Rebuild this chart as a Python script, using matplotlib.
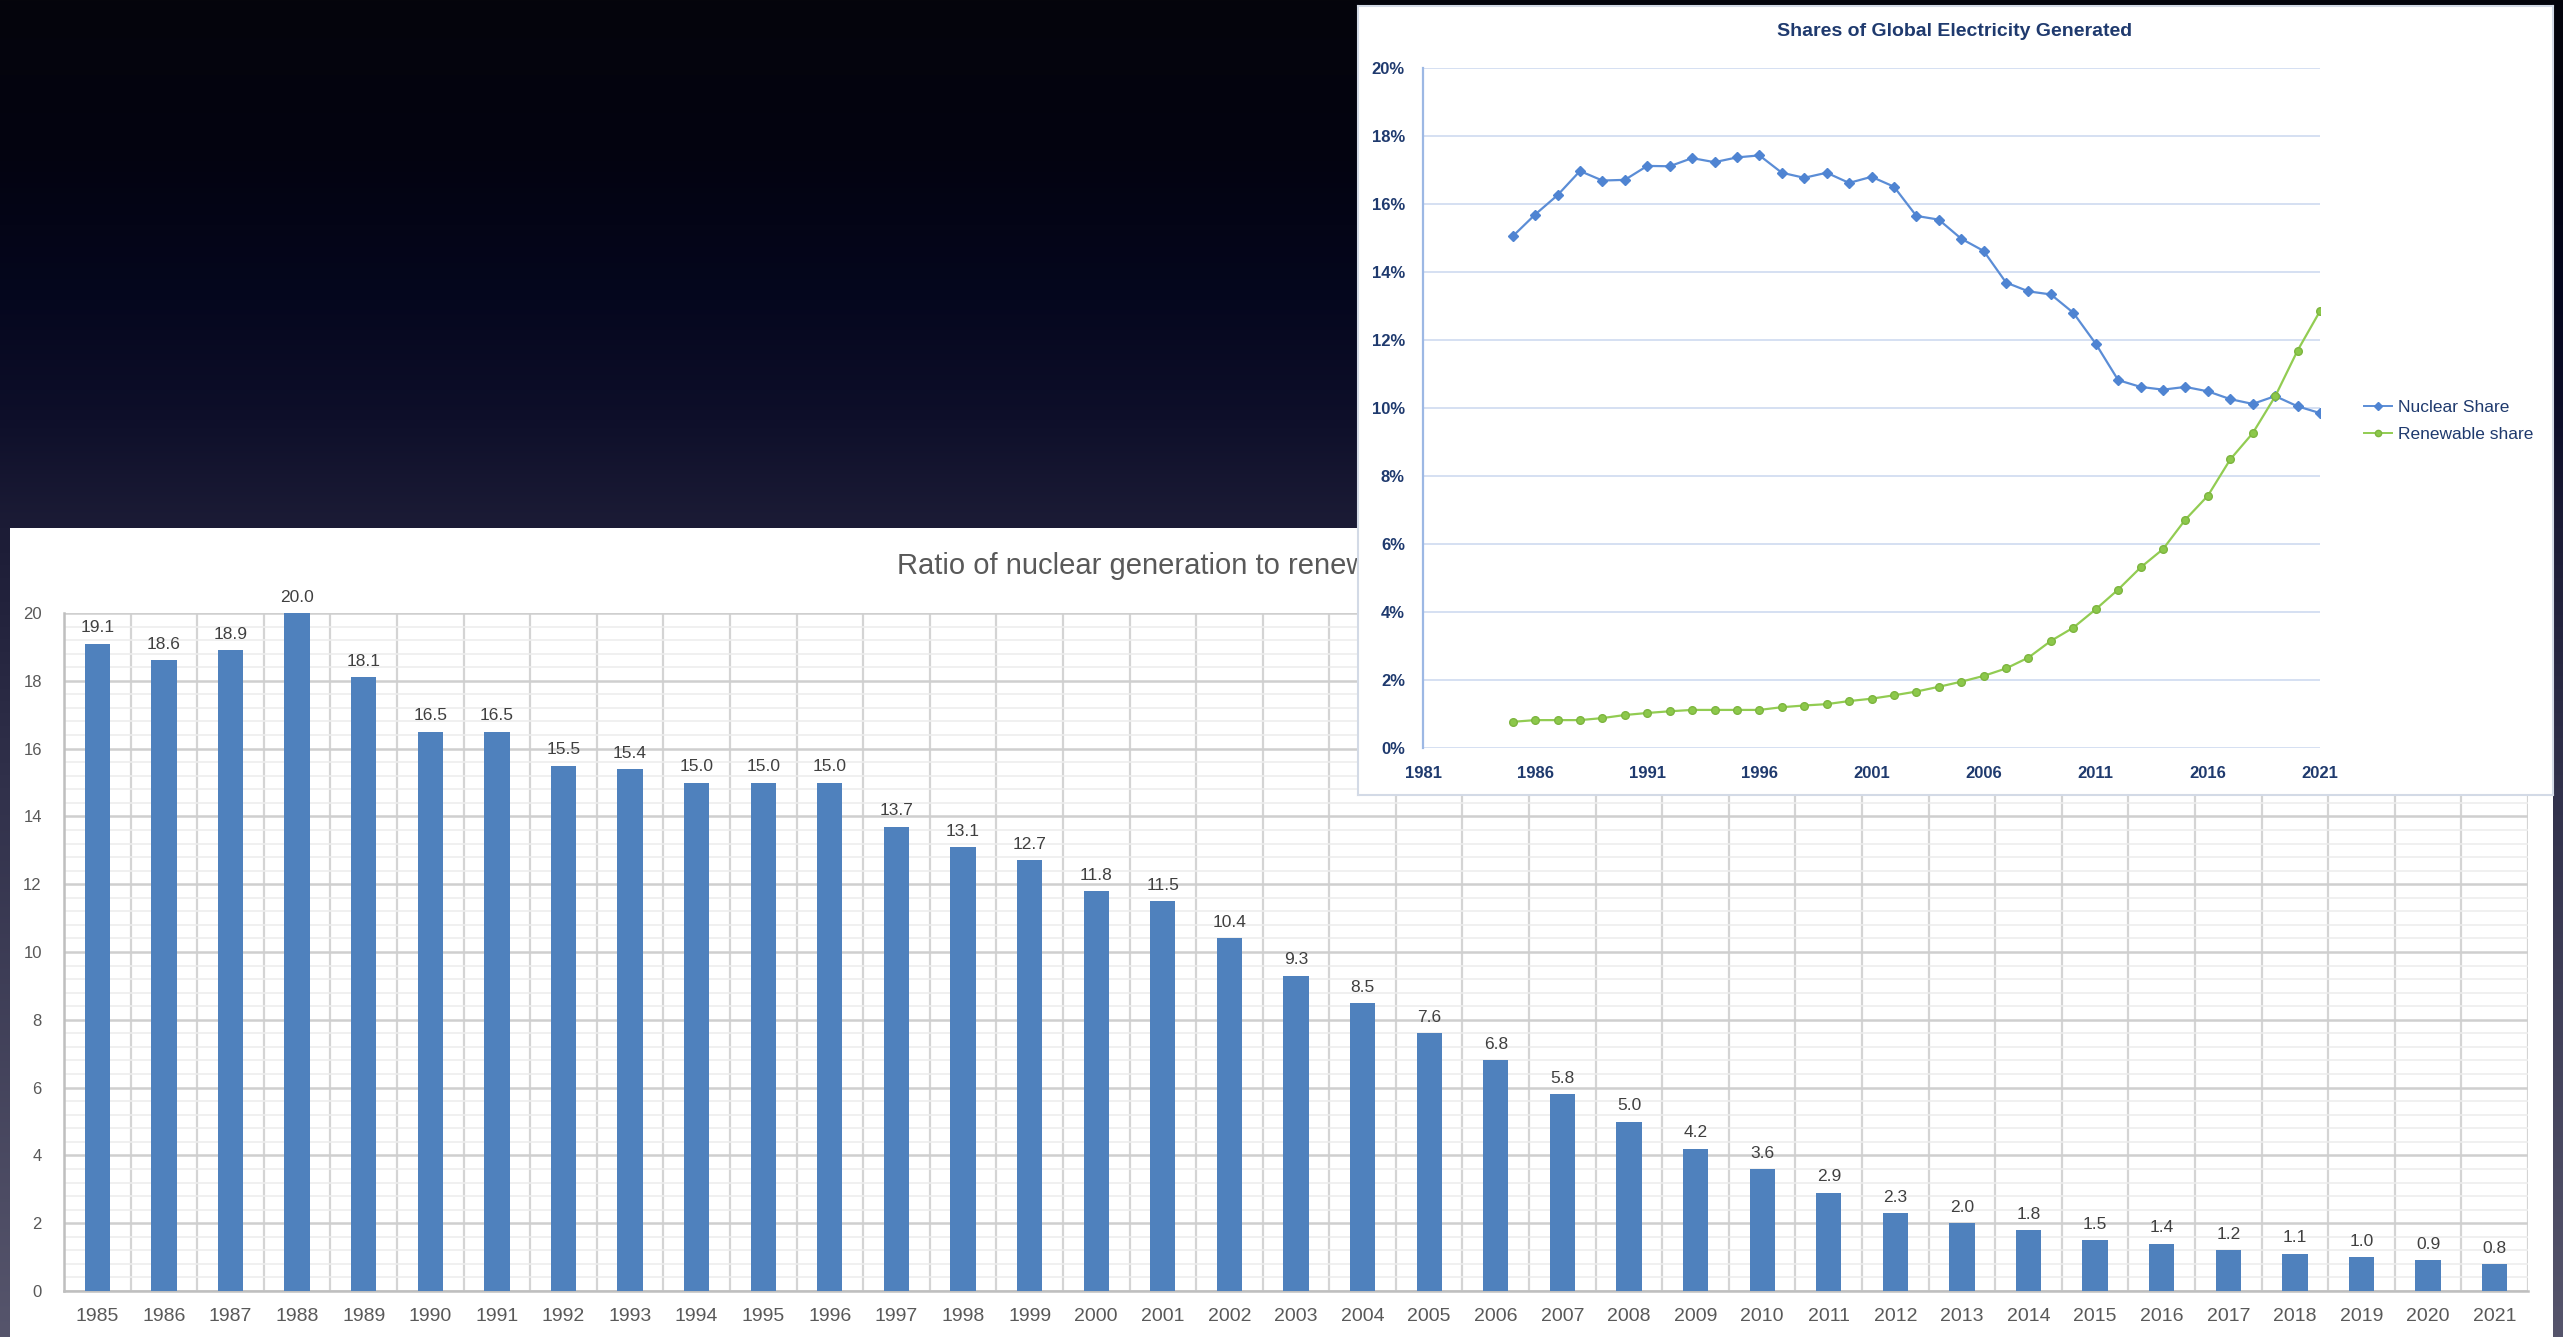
import numpy as np
import matplotlib
matplotlib.use("Agg")
import matplotlib.pyplot as plt
from matplotlib.lines import Line2D

# ---- data -------------------------------------------------------------
years = list(range(1985, 2022))

ratio_values = [19.1, 18.6, 18.9, 20.0, 18.1, 16.5, 16.5, 15.5, 15.4, 15.0,
                15.0, 15.0, 13.7, 13.1, 12.7, 11.8, 11.5, 10.4, 9.3, 8.5,
                7.6, 6.8, 5.8, 5.0, 4.2, 3.6, 2.9, 2.3, 2.0, 1.8,
                1.5, 1.4, 1.2, 1.1, 1.0, 0.9, 0.8]

nuclear_share = [15.05, 15.69, 16.26, 16.97, 16.69, 16.71, 17.12, 17.11, 17.35, 17.23,
                 17.37, 17.43, 16.92, 16.77, 16.92, 16.62, 16.80, 16.51, 15.65, 15.54,
                 14.98, 14.62, 13.69, 13.43, 13.34, 12.80, 11.89, 10.82, 10.62, 10.54,
                 10.62, 10.49, 10.26, 10.12, 10.35, 10.05, 9.85]

renewable_share = [0.77, 0.82, 0.82, 0.82, 0.88, 0.97, 1.03, 1.08, 1.12, 1.12,
                   1.12, 1.12, 1.20, 1.25, 1.29, 1.38, 1.45, 1.55, 1.66, 1.80,
                   1.95, 2.12, 2.34, 2.66, 3.15, 3.54, 4.08, 4.66, 5.31, 5.85,
                   6.72, 7.42, 8.49, 9.26, 10.34, 11.69, 12.85]

ratio_title = "Ratio of nuclear generation to renewable generation"
shares_title = "Shares of Global Electricity Generated"
series_names = ["Nuclear Share", "Renewable share"]
share_xticks = list(range(1981, 2022, 5))
share_yticks = [v / 100 for v in range(0, 21, 2)]

# ---- layout helpers ---------------------------------------------------
W, H = 2563, 1337
FONT = ["Liberation Sans", "DejaVu Sans"]
plt.rcParams["font.family"] = FONT


def box(x0, y0, x1, y1):
    """Pixel box (left, top, right, bottom) -> figure fraction rect."""
    return [x0 / W, 1 - y1 / H, (x1 - x0) / W, (y1 - y0) / H]


fig = plt.figure(figsize=(W / 100, H / 100), dpi=100)

# ---- dark slide background ---------------------------------------------
stops_y = np.array([0, 150, 300, 420, 528, 800, 1337]) / H
stops_c = np.array([[5, 5, 12], [3, 3, 16], [5, 7, 30], [14, 15, 42],
                    [28, 28, 54], [50, 50, 76], [86, 85, 108]]) / 255.0
yy = np.linspace(0, 1, H)
grad = np.stack([np.interp(yy, stops_y, stops_c[:, k]) for k in range(3)], axis=-1)
grad = grad[:, None, :]
bg = fig.add_axes([0, 0, 1, 1], zorder=0)
bg.imshow(grad, aspect="auto", extent=[0, 1, 0, 1], origin="upper")
bg.set_axis_off()

# ---- ratio bar chart panel --------------------------------------------
pan1 = fig.add_axes(box(10, 528, 2553, 1340), zorder=1)
pan1.set_facecolor("white")
pan1.set_xticks([]); pan1.set_yticks([])
for s in pan1.spines.values():
    s.set_visible(False)

ax1 = fig.add_axes(box(64, 613, 2528, 1291), zorder=2)
x = np.arange(len(years))
bars = ax1.bar(x, ratio_values, width=0.38, color="#4F81BD", zorder=3)
ax1.bar_label(bars, labels=[f"{v:.1f}" for v in ratio_values], padding=6,
              fontsize=12.5, color="#404040")
ax1.set_xlim(-0.5, len(years) - 0.5)
ax1.set_ylim(0, 20)
ax1.set_xticks(x, [str(y) for y in years])
ax1.set_xticks(np.arange(-0.5, len(years), 1.0), minor=True)
ax1.set_yticks(range(0, 21, 2))
ax1.set_yticks(np.arange(0, 20.01, 0.4), minor=True)
ax1.tick_params(axis="x", which="both", length=0, pad=12, labelsize=14, labelcolor="#595959")
ax1.tick_params(axis="y", which="both", length=0, pad=16, labelsize=12, labelcolor="#595959")
ax1.grid(axis="x", which="minor", color="#D4D4D4", linewidth=1.6)
ax1.grid(axis="y", which="major", color="#CFCFCF", linewidth=1.8)
ax1.grid(axis="y", which="minor", color="#EDEDED", linewidth=1.2)
ax1.set_axisbelow(True)
for side in ("top", "right"):
    ax1.spines[side].set_visible(False)
for side in ("left", "bottom"):
    ax1.spines[side].set_color("#BFBFBF")
    ax1.spines[side].set_linewidth(1.8)

fig.text(897 / W, 1 - 566 / H, ratio_title, ha="left", va="center",
         fontsize=21, color="#595959", zorder=2)

# ---- shares line chart panel -------------------------------------------
pan2 = fig.add_axes(box(1358, 6, 2553, 795), zorder=3)
pan2.set_facecolor("white")
pan2.set_xticks([]); pan2.set_yticks([])
for s in pan2.spines.values():
    s.set_color("#D3DAE6")
    s.set_linewidth(1.5)

ax2 = fig.add_axes(box(1423, 68, 2320, 748), zorder=4)
ax2.set_facecolor("none")
nuc_c, ren_c = "#5B8DD6", "#92CC52"
ax2.plot(years, [v / 100 for v in nuclear_share], color=nuc_c, lw=1.6,
         marker="D", markersize=5, markerfacecolor="#4F84D2", markeredgecolor="#4F84D2")
ax2.plot(years, [v / 100 for v in renewable_share], color=ren_c, lw=1.6,
         marker="o", markersize=5.5, markerfacecolor="#8CC84B", markeredgecolor="#7DB53F")
ax2.set_xlim(1981, 2021)
ax2.set_ylim(0, 0.20)
ax2.set_xticks(share_xticks, [str(v) for v in share_xticks])
ax2.set_yticks(share_yticks, [f"{v:.0%}" for v in share_yticks])
ax2.tick_params(axis="both", length=0, labelsize=12, labelcolor="#1F3A6E")
ax2.tick_params(axis="x", pad=13)
ax2.tick_params(axis="y", pad=13)
for lab in ax2.get_xticklabels() + ax2.get_yticklabels():
    lab.set_fontweight("bold")
ax2.grid(axis="y", color="#D5E0F2", linewidth=1.4)
for side in ("top", "right", "bottom"):
    ax2.spines[side].set_visible(False)
ax2.spines["left"].set_color("#9DB8E4")
ax2.spines["left"].set_linewidth(1.6)

fig.text(1955 / W, 1 - 31 / H, shares_title, ha="center", va="center",
         fontsize=14, fontweight="bold", color="#1F3A6E", zorder=5)

handles = [Line2D([], [], color=nuc_c, lw=1.4, marker="D", markersize=4,
                  markerfacecolor="#4F84D2", markeredgecolor="#4F84D2"),
           Line2D([], [], color=ren_c, lw=1.4, marker="o", markersize=4.5,
                  markerfacecolor="#8CC84B", markeredgecolor="#7DB53F")]
leg = fig.legend(handles, series_names, loc="center left",
                 bbox_to_anchor=(2364 / W, 1 - 421 / H), frameon=False,
                 fontsize=12.5, handlelength=1.6, handletextpad=0.35,
                 labelspacing=0.7, borderpad=0, borderaxespad=0)
leg.set_zorder(6)
for t in leg.get_texts():
    t.set_color("#1F3A6E")

fig.savefig("out.png", dpi=100)
